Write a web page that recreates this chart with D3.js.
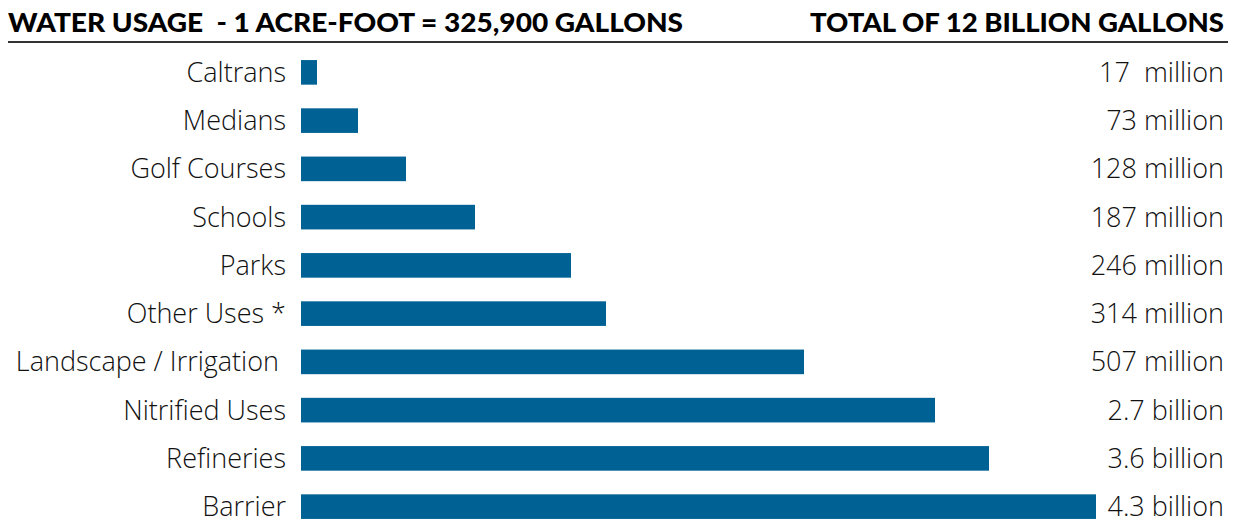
<!DOCTYPE html>
<html><head><meta charset="utf-8">
<script src="https://cdn.jsdelivr.net/npm/d3@7"></script>
<style>body{margin:0;background:#fff}svg{display:block}</style>
</head><body>
<script>
const categories = ["Caltrans","Medians","Golf Courses","Schools","Parks","Other Uses *","Landscape / Irrigation ","Nitrified Uses","Refineries","Barrier"];
const valueLabels = ["17  million","73 million","128 million","187 million","246 million","314 million","507 million","2.7 billion","3.6 billion","4.3 billion"];
// bar lengths as drawn in the reference (relative units)
const barValues = [16, 57, 105, 174, 270, 305, 503, 634, 688, 795];
const titleLeft = "WATER USAGE  - 1 ACRE-FOOT = 325,900 GALLONS";
const titleRight = "TOTAL OF 12 BILLION GALLONS";

const W = 1233, H = 521;
const svg = d3.select("body").append("svg").attr("width", W).attr("height", H);

const x = d3.scaleLinear().domain([0, 795]).range([301, 1096]);
const y = d3.scaleBand().domain(categories).range([48, 531]).paddingInner(0.49).paddingOuter(0.25);

svg.append("text").attr("x", 8).attr("y", 32)
  .attr("font-family", "Lato").attr("font-weight", 900).attr("font-size", 27)
  .attr("fill", "#000").attr("xml:space","preserve")
  .attr("textLength", 675).attr("lengthAdjust", "spacingAndGlyphs")
  .text(titleLeft);
svg.append("text").attr("x", 1224).attr("y", 32).attr("text-anchor", "end")
  .attr("font-family", "Lato").attr("font-weight", 900).attr("font-size", 27)
  .attr("fill", "#000")
  .attr("textLength", 414).attr("lengthAdjust", "spacingAndGlyphs")
  .text(titleRight);
svg.append("line").attr("x1", 8).attr("x2", 1228).attr("y1", 42).attr("y2", 42)
  .attr("stroke", "#333").attr("stroke-width", 2);

const rows = categories.map((c, i) => ({c, v: barValues[i], lab: valueLabels[i]}));

svg.selectAll("rect.bar").data(rows).join("rect").attr("class","bar")
  .attr("x", x(0)).attr("y", d => y(d.c))
  .attr("width", d => x(d.v) - x(0)).attr("height", y.bandwidth())
  .attr("fill", "#006194");

svg.selectAll("text.cat").data(rows).join("text").attr("class","cat")
  .attr("x", 286).attr("y", d => y(d.c) + y.bandwidth()/2 + 9.5)
  .attr("text-anchor", "end").attr("xml:space","preserve")
  .attr("font-family", "Open Sans").attr("font-weight", 300).attr("font-size", 27).attr("fill", "#111")
  .text(d => d.c);

svg.selectAll("text.val").data(rows).join("text").attr("class","val")
  .attr("x", 1224).attr("y", d => y(d.c) + y.bandwidth()/2 + 9.5)
  .attr("text-anchor", "end").attr("xml:space","preserve")
  .attr("font-family", "Open Sans").attr("font-weight", 300).attr("font-size", 27).attr("fill", "#111")
  .text(d => d.lab);
</script>
</body></html>
